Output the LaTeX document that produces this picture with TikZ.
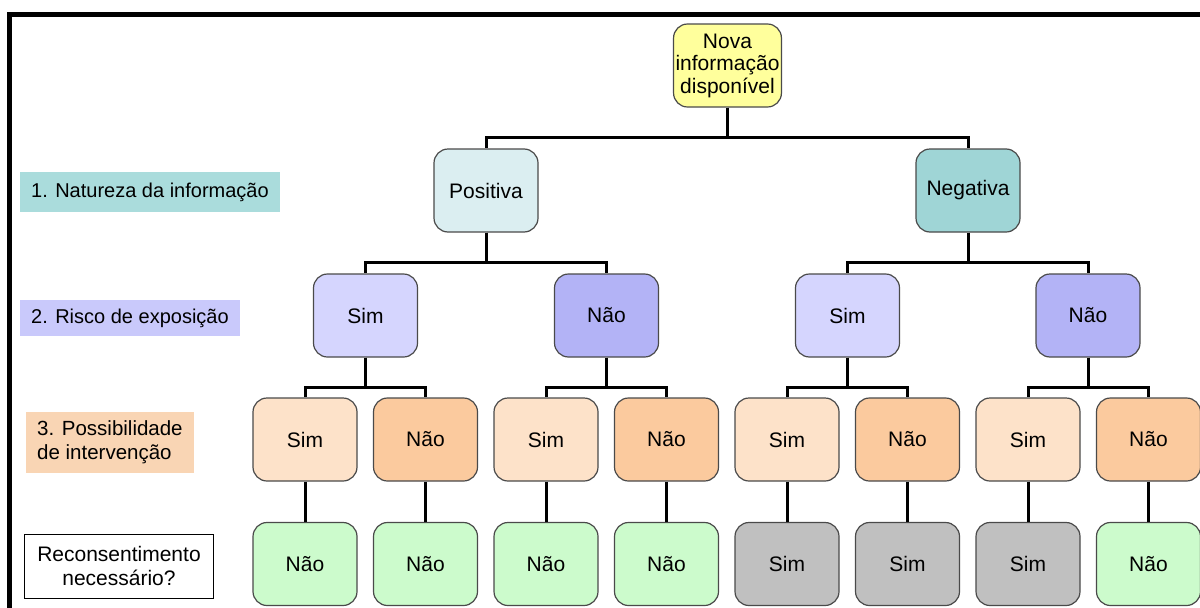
\documentclass[tikz,border=0pt]{standalone}
\usepackage{fontspec}
\setmainfont{Liberation Sans}
\usepackage{tikz}
\usetikzlibrary{
  positioning,
  calc
}
\definecolor{dcLine}{HTML}{4A4A4A}
\definecolor{dcRoot}{HTML}{FFFF9C}
\definecolor{dcPos}{HTML}{DBEEF1}
\definecolor{dcNeg}{HTML}{9FD5D6}
\definecolor{dcRiskYes}{HTML}{D5D5FE}
\definecolor{dcRiskNo}{HTML}{B3B3F6}
\definecolor{dcIntYes}{HTML}{FDE2C9}
\definecolor{dcIntNo}{HTML}{FBCA9E}
\definecolor{dcReNo}{HTML}{CCFBCC}
\definecolor{dcReYes}{HTML}{C0C0C0}
\definecolor{dcLabA}{HTML}{AADCDC}
\definecolor{dcLabB}{HTML}{C9C9FB}
\definecolor{dcLabC}{HTML}{F9D5B4}
\tikzset{
  dcnode/.style={
    draw=dcLine, line width=1.2pt, rounded corners=14pt, minimum width=104pt,
    minimum height=83pt, align=center, inner sep=2pt,
    font=\fontsize{21}{22.5}\selectfont
  },
  rootbox/.style={dcnode, fill=dcRoot, minimum width=103pt},
  posbox/.style={dcnode, fill=dcPos},
  negbox/.style={dcnode, fill=dcNeg},
  riskyes/.style={dcnode, fill=dcRiskYes},
  riskno/.style={dcnode, fill=dcRiskNo},
  intyes/.style={dcnode, fill=dcIntYes},
  intno/.style={dcnode, fill=dcIntNo},
  reyes/.style={dcnode, fill=dcReYes},
  reno/.style={dcnode, fill=dcReNo},
  levellabel/.style={
    anchor=west, align=left, inner xsep=11pt, inner ysep=0pt,
    font=\fontsize{20}{24}\selectfont
  },
  branch/.style={line width=3pt, black},
  frameline/.style={line width=5pt, black}
}

\begin{document}
\begin{tikzpicture}[x=1pt, y=-1pt, node distance=40.3pt and 15.3pt]
  \useasboundingbox (0,0) rectangle (1200,608);
  \clip (0,0) rectangle (1200,608);
  \draw[frameline] (9.5,630) -- (9.5,14.5) -- (1230,14.5);

  % levels on the left
  \node[levellabel, fill=dcLabA, minimum height=40pt] (lnat) at (20,192) {1. Natureza da informação};
  \node[levellabel, fill=dcLabB, minimum height=36pt] (lrisk) at (20,318) {2. Risco de exposição};
  \node[levellabel, fill=dcLabC, minimum height=61pt, font=\fontsize{20.5}{24}\selectfont] (lint)
    at (26,442.5) {3. Possibilidade\\de intervenção};
  \node[levellabel, draw=black, line width=1pt, align=center, minimum width=189pt, minimum height=64pt,
    inner xsep=2pt, font=\fontsize{21}{23.5}\selectfont] (lre) at (24,566) {Reconsentimento\\necessário?};

  % tree
  \node[rootbox] (nova) at (727.5,65.5) {Nova\\informação\\disponível};
  \node[posbox] (pos) at (486,190.5) {Positiva};
  \node[negbox] (neg) at (968,190.5) {Negativa};
  \node[riskyes] (psim) at (365.5,315.5) {Sim};
  \node[riskno] (pnao) at (606.5,315.5) {Não};
  \node[riskyes] (nsim) at (847.5,315.5) {Sim};
  \node[riskno] (nnao) at (1088,315.5) {Não};

  \node[intyes] (pss) at (305,439.5) {Sim};
  \node[intno, right=of pss] (psn) {Não};
  \node[intyes, right=of psn] (pns) {Sim};
  \node[intno, right=of pns] (pnn) {Não};
  \node[intyes, right=of pnn] (nss) {Sim};
  \node[intno, right=of nss] (nsn) {Não};
  \node[intyes, right=of nsn] (nns) {Sim};
  \node[intno, right=of nns] (nnn) {Não};

  \node[reno, below=of pss] (rpss) {Não};
  \node[reno, below=of psn] (rpsn) {Não};
  \node[reno, below=of pns] (rpns) {Não};
  \node[reno, below=of pnn] (rpnn) {Não};
  \node[reyes, below=of nss] (rnss) {Sim};
  \node[reyes, below=of nsn] (rnsn) {Sim};
  \node[reyes, below=of nns] (rnns) {Sim};
  \node[reno, below=of nnn] (rnnn) {Não};

  % connectors
  \draw[branch] (nova.south) -- ++(0,30) -| (pos.north);
  \draw[branch] (nova.south) -- ++(0,30) -| (neg.north);
  \draw[branch] (pos.south) -- ++(0,30) -| (psim.north);
  \draw[branch] (pos.south) -- ++(0,30) -| (pnao.north);
  \draw[branch] (neg.south) -- ++(0,30) -| (nsim.north);
  \draw[branch] (neg.south) -- ++(0,30) -| (nnao.north);
  \draw[branch] (psim.south) -- ++(0,30) -| (pss.north);
  \draw[branch] (psim.south) -- ++(0,30) -| (psn.north);
  \draw[branch] (pnao.south) -- ++(0,30) -| (pns.north);
  \draw[branch] (pnao.south) -- ++(0,30) -| (pnn.north);
  \draw[branch] (nsim.south) -- ++(0,30) -| (nss.north);
  \draw[branch] (nsim.south) -- ++(0,30) -| (nsn.north);
  \draw[branch] (nnao.south) -- ++(0,30) -| (nns.north);
  \draw[branch] (nnao.south) -- ++(0,30) -| (nnn.north);
  \draw[branch] (pss) -- (rpss);
  \draw[branch] (psn) -- (rpsn);
  \draw[branch] (pns) -- (rpns);
  \draw[branch] (pnn) -- (rpnn);
  \draw[branch] (nss) -- (rnss);
  \draw[branch] (nsn) -- (rnsn);
  \draw[branch] (nns) -- (rnns);
  \draw[branch] (nnn) -- (rnnn);
\end{tikzpicture}
\end{document}
